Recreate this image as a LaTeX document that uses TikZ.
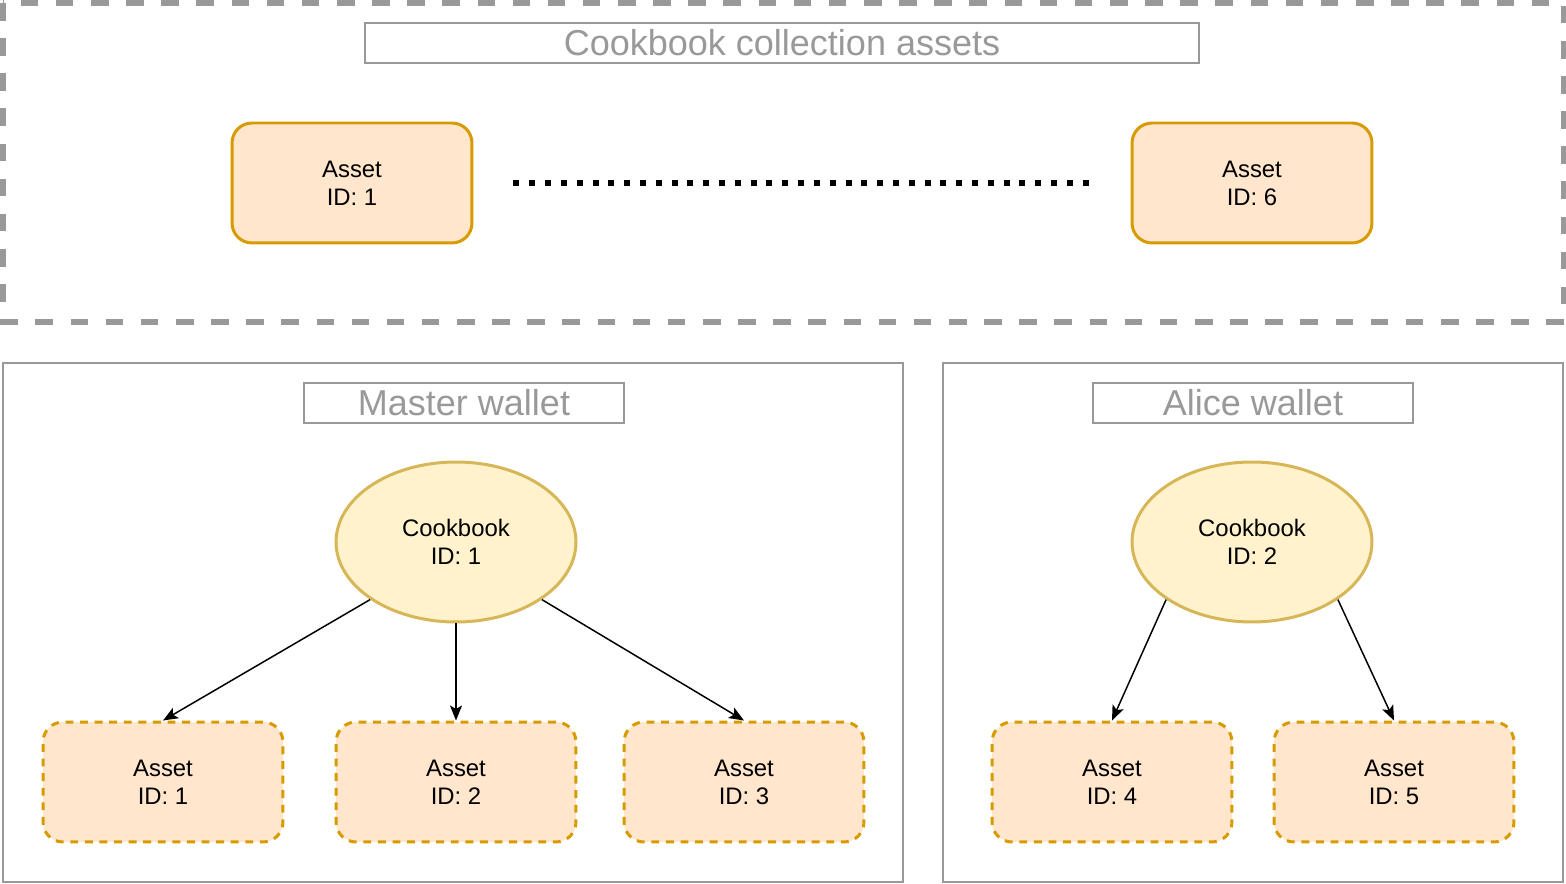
\documentclass[tikz,border=0pt]{standalone}
\usepackage{fontspec}
\setmainfont{Liberation Sans}
\usetikzlibrary{arrows.meta,shapes.geometric}

\definecolor{assetfill}{HTML}{FFE6CC}
\definecolor{assetline}{HTML}{D79B00}
\definecolor{bookfill}{HTML}{FFF2CC}
\definecolor{bookline}{HTML}{D6B656}
\definecolor{framegray}{HTML}{999999}

\begin{document}
\begin{tikzpicture}[x=0.02cm,y=-0.02cm,>={Stealth[length=0.3cm,width=0.24cm,inset=0.07cm]},
    asset node/.style={rectangle,rounded corners=0.4cm,draw=assetline,fill=assetfill,
      line width=1.7pt,minimum width=4.8cm,minimum height=2.4cm,align=center,
      font=\fontsize{13.6}{16}\selectfont},
    owned node/.style={asset node,dash pattern=on 4.5pt off 3.8pt},
    cookbook node/.style={ellipse,draw=bookline,fill=bookfill,line width=1.7pt,
      minimum width=4.8cm,minimum height=3.2cm,align=center,
      font=\fontsize{13.6}{16}\selectfont},
    title node/.style={rectangle,draw=framegray,line width=1.1pt,text=framegray,
      minimum height=0.8cm,inner sep=0pt,font=\fontsize{20.5}{22}\selectfont},
    frame/.style={draw=framegray,line width=1.1pt}]
  \useasboundingbox (0,0) rectangle (1566,884);

  % collection of all assets
  \draw[framegray,line width=3.3pt,dash pattern=on 10pt off 10pt] (3,3) rectangle (1564,322);
  \node[title node,minimum width=16.7cm] (colltitle) at (782,43) {Cookbook collection assets};
  \node[asset node] (c1) at (352,183) {Asset\\ID: 1};
  \node[asset node] (c6) at (1252,183) {Asset\\ID: 6};
  \draw[line width=3.4pt,dash pattern=on 3.4pt off 5.6pt,shorten <=0.8cm,shorten >=0.8cm]
    (c1.east) -- (c6.west);

  % master wallet
  \draw[frame] (3,363) rectangle (903,882);
  \node[title node,minimum width=6.4cm] (mtitle) at (464,403) {Master wallet};
  \node[cookbook node] (book1) at (456,542) {Cookbook\\ID: 1};
  \node[owned node] (a1) at (163,782) {Asset\\ID: 1};
  \node[owned node] (a2) at (456,782) {Asset\\ID: 2};
  \node[owned node] (a3) at (744,782) {Asset\\ID: 3};

  % alice wallet
  \draw[frame] (943,363) rectangle (1563,882);
  \node[title node,minimum width=6.4cm] (atitle) at (1253,403) {Alice wallet};
  \node[cookbook node] (book2) at (1252,542) {Cookbook\\ID: 2};
  \node[owned node] (a4) at (1112,782) {Asset\\ID: 4};
  \node[owned node] (a5) at (1394,782) {Asset\\ID: 5};

  \path[->,line width=0.85pt]
    (book1.south west) edge (a1.north)
    (book1.south) edge (a2.north)
    (book1.south east) edge (a3.north)
    (book2.south west) edge (a4.north)
    (book2.south east) edge (a5.north);
\end{tikzpicture}
\end{document}
